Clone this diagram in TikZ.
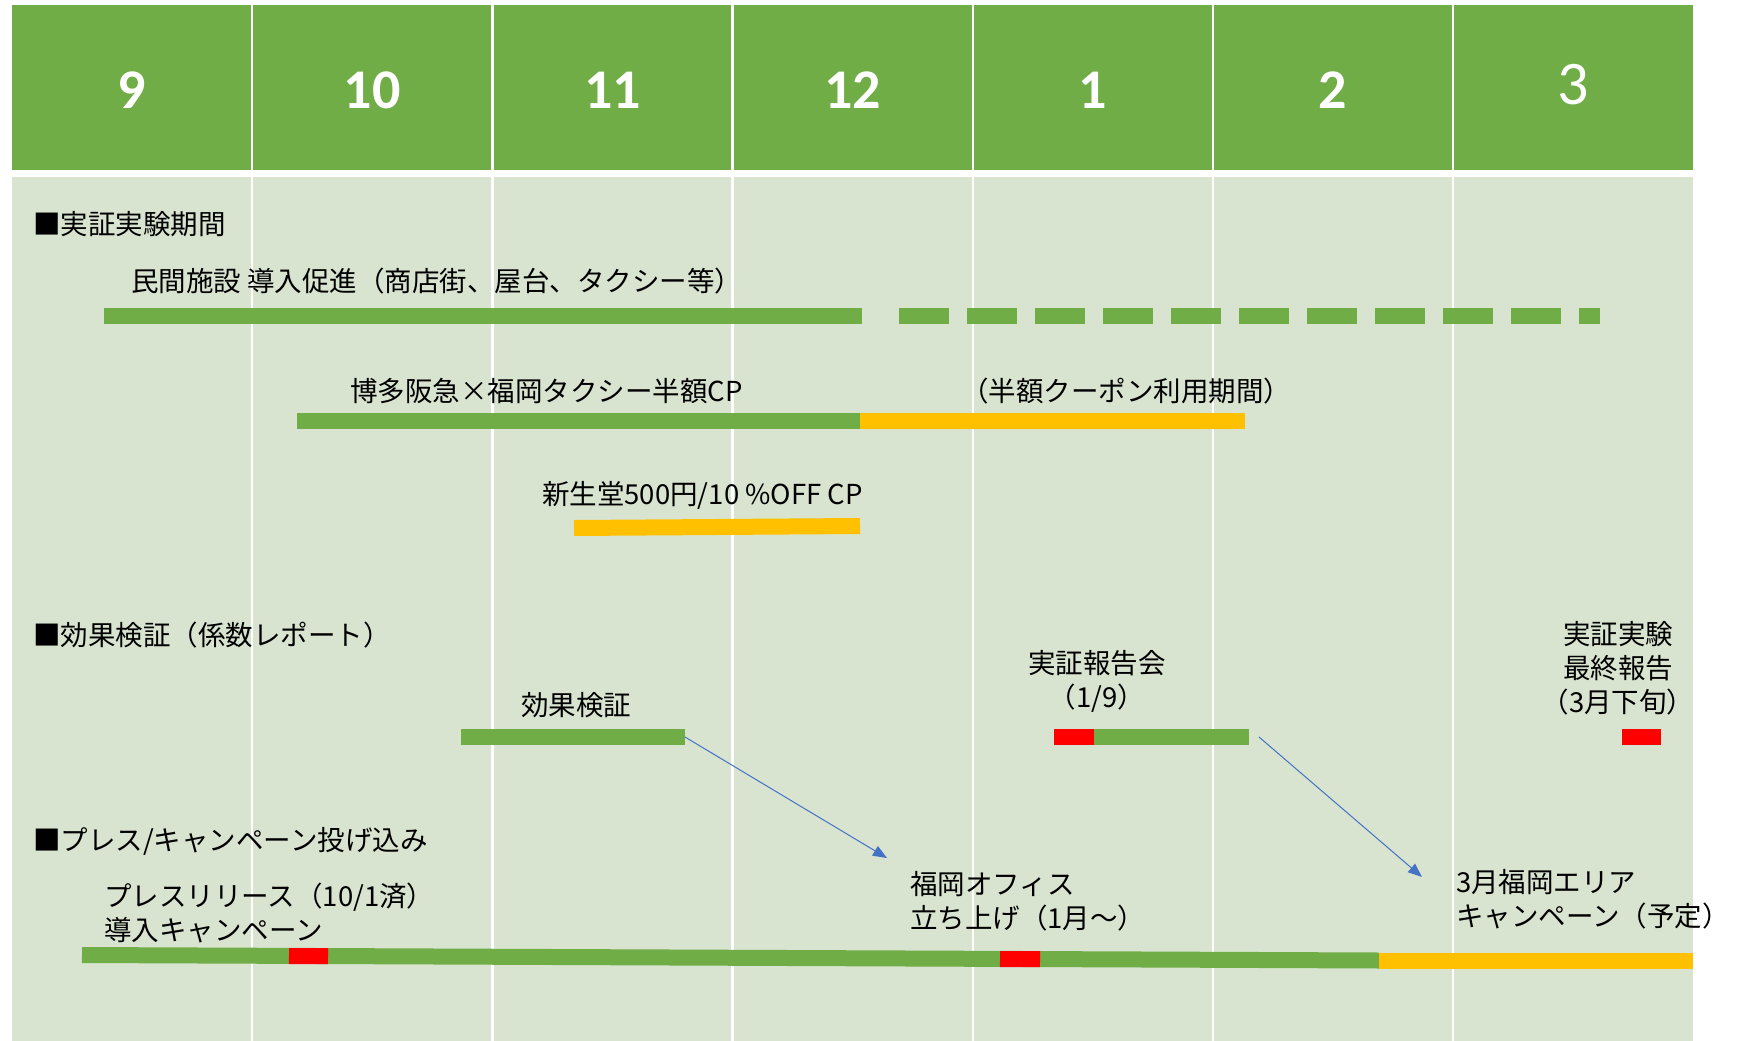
\documentclass[tikz,border=0pt]{standalone}
\usepackage{fontspec}
\newfontfamily\jpfont{Noto Sans CJK JP}
\newfontfamily\numfont{Carlito}
\usetikzlibrary{arrows.meta, positioning}
\definecolor{hgreen}{HTML}{70AD47}
\definecolor{lgreen}{HTML}{D8E4D0}
\definecolor{corange}{HTML}{FFC000}
\definecolor{cred}{HTML}{FF0000}
\definecolor{cblue}{HTML}{4472C4}

\begin{document}
\begin{tikzpicture}[x=1pt, y=-1pt,
    lbl/.style={inner sep=0pt, font=\jpfont\fontsize{27.5}{34}\selectfont},
    month/.style={text=white, font=\numfont\bfseries\fontsize{56}{56}\selectfont},
    bar/.style={line width=16pt},
    gbar/.style={bar, draw=hgreen},
    obar/.style={bar, draw=corange},
    rbar/.style={bar, draw=cred},
    link/.style={draw=cblue, line width=1pt, -{Triangle[length=14pt, width=11pt]}}]

    \useasboundingbox (0,0) rectangle (1738,1041);

    % Define the header and the body background
    \fill[hgreen] (12,5.5) rectangle (1693,169.5);
    \fill[lgreen] (12,177) rectangle (1693,1041);
    \foreach \i in {1,...,6}
        \draw[white, line width=2.5pt] (12+240.2*\i,5.5) -- (12+240.2*\i,1041);

    % Add the months
    \foreach \m [count=\i from 0] in {9,10,11,12,1,2}
        \node[month] (m\i) at (132.1+240.2*\i,90) {\m};
    \node[month, font=\numfont\fontsize{62}{62}\selectfont] (m6) at (1573.3,85) {3};

    % First section
    \node[lbl, anchor=west] (sec1) at (33,224) {■実証実験期間};
    \node[lbl, anchor=west] (minkan) at (131,281) {民間施設 導入促進（商店街、屋台、タクシー等）};
    \draw[gbar] (104,316) -- (862,316);
    \draw[gbar, dash pattern=on 50pt off 18pt] (899,316) -- (1600,316);

    \node[lbl, anchor=west] (hakata) at (350,391) {博多阪急×福岡タクシー半額CP};
    \node[lbl, anchor=west] (coupon) at (961,391) {（半額クーポン利用期間）};
    \draw[gbar] (297,421) -- (860,421);
    \draw[obar] (860,421) -- (1245,421);

    \node[lbl, anchor=west] (shinsei) at (542,495) {新生堂500円/10 \%OFF CP};
    \draw[obar] (574,528) -- (860,526);

    % Second section
    \node[lbl, anchor=west] (sec2) at (33,635) {■効果検証（係数レポート）};
    \node[lbl] (kouka) at (576,705) {効果検証};
    \coordinate (kb-e) at (685,737);
    \draw[gbar] (461,737) -- (kb-e);

    \node[lbl, align=center] (houkoku) at (1097,681) {実証報告会\\（1/9）};
    \coordinate (hb-e) at (1249,737);
    \draw[rbar] (1054,737) -- (1094,737);
    \draw[gbar] (1094,737) -- (hb-e);

    \node[lbl, align=center] (saishu) at (1618,668) {実証実験\\最終報告\\（3月下旬）};
    \draw[rbar] (1622,737) -- (1661,737);

    % Third section
    \node[lbl, anchor=west] (sec3) at (33,841) {■プレス/キャンペーン投げ込み};
    \node[lbl, anchor=west, align=left] (press) at (104,913) {プレスリリース（10/1済）\\導入キャンペーン};
    \node[lbl, anchor=west, align=left] (office) at (910,901) {福岡オフィス\\立ち上げ（1月～）};
    \node[lbl, anchor=west, align=left] (camp) at (1456,899) {3月福岡エリア\\キャンペーン（予定）};
    \draw[gbar] (82,955) -- (1379,960.5);
    \draw[rbar] (289,956) -- (328,956.2);
    \draw[rbar] (1000,959) -- (1040,959.2);
    \draw[obar] (1379,960.5) -- (1693,960.5);

    % Create the links
    \coordinate (office-a) at (887,858);
    \coordinate (camp-a) at (1422,877);
    \draw[link] (kb-e) -- (office-a);
    \draw[link] ([xshift=10pt]hb-e) -- (camp-a);
\end{tikzpicture}
\end{document}
